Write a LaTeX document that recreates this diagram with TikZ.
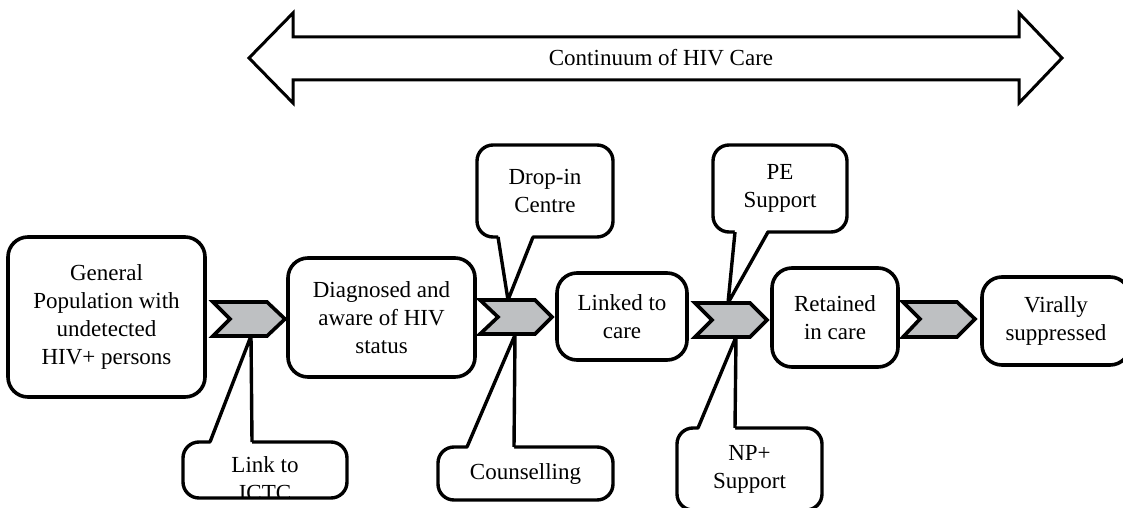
\documentclass[tikz,border=0pt]{standalone}
\usepackage{fontspec}
\setmainfont{Liberation Serif}
\definecolor{chevgray}{RGB}{190,192,194}
\begin{document}
\begin{tikzpicture}[x=0.5pt,y=-0.5pt,
  every node/.style={font=\fontsize{11.5}{14}\selectfont, align=center, inner sep=0pt},
  stage/.style={draw=black, line width=1.8pt, rounded corners=10pt, fill=white},
  bubble/.style={draw=black, line width=1.7pt, rounded corners=8pt, fill=white},
  tail/.style={draw=black, line width=1.7pt, line join=miter},
  chev/.style={draw=black, line width=1.8pt, fill=chevgray, line join=miter},
  band/.style={draw=black, line width=1.5pt, fill=white, line join=miter}]
\useasboundingbox (0,0) rectangle (1123,508);
\clip (0,0) rectangle (1123,508);

% double-headed banner across the top
\draw[band] (249,58) -- (293,13) -- (293,37) -- (1019,37) -- (1019,13) -- (1062,58)
  -- (1019,103) -- (1019,80) -- (293,80) -- (293,103) -- cycle;
\node (title) at (661,58) {Continuum of HIV Care};

% support callouts
\node[bubble, minimum width=68pt, minimum height=46pt] (drop) at (545,191) {Drop-in\\Centre};
\node[bubble, minimum width=67pt, minimum height=43.5pt] (pe) at (780,188.5) {PE\\Support};
% this callout is too short for its text: the second line runs under the border
\node[bubble, minimum width=82pt, minimum height=28pt,
  path picture={\node[yshift=-4.5pt] (linktext) at (path picture bounding box.center) {Link to\\ICTC};}]
  (link) at (265,470) {};
\node[bubble, minimum width=87.5pt, minimum height=26.5pt] (couns) at (525.5,473.5) {Counselling};
\node[bubble, minimum width=72.5pt, minimum height=41pt] (np) at (749.5,469) {NP+\\Support};

% callout tails
\coordinate (linkL) at (210,442);  \coordinate (linkR) at (252,442);  \coordinate (linkT) at (251,336);
\coordinate (counsL) at (467,447); \coordinate (counsR) at (514,447); \coordinate (counsT) at (515,335);
\coordinate (npL) at (698,428);    \coordinate (npR) at (735,428);    \coordinate (npT) at (736,337);
\coordinate (dropL) at (498,237);  \coordinate (dropR) at (533,237);  \coordinate (dropT) at (508,300);
\coordinate (peL) at (735,232);    \coordinate (peR) at (768,232);    \coordinate (peT) at (728,303);

\foreach \t in {link,couns,np}{
  \fill[white] ([yshift=-1.6pt]\t L) -- (\t T) -- ([yshift=-1.6pt]\t R) -- cycle;
  \draw[tail] (\t L) -- (\t T) -- (\t R);
}
\foreach \t in {drop,pe}{
  \fill[white] ([yshift=1.6pt]\t L) -- (\t T) -- ([yshift=1.6pt]\t R) -- cycle;
  \draw[tail] (\t L) -- (\t T) -- (\t R);
}

% chevrons between the stages
\draw[chev] (213,302) -- (267,302) -- (285,319) -- (267,336) -- (213,336) -- (230,319) -- cycle;
\draw[chev] (480,300) -- (535,300) -- (552,317) -- (535,334) -- (480,334) -- (498,317) -- cycle;
\draw[chev] (695,303) -- (750,303) -- (767,320) -- (750,337) -- (695,337) -- (712,320) -- cycle;
\draw[chev] (903,302) -- (957,302) -- (975,319) -- (957,337) -- (903,337) -- (920,319) -- cycle;

% stages of the continuum
\node[stage, minimum width=98.5pt, minimum height=80pt] (gen) at (106.5,317)
  {General\\Population with\\undetected\\HIV+ persons};
\node[stage, minimum width=93.5pt, minimum height=59.5pt] (diag) at (381.5,317.5)
  {Diagnosed and\\aware of HIV\\status};
\node[stage, minimum width=65pt, minimum height=43.5pt] (linked) at (622,316.5)
  {Linked to\\care};
\node[stage, minimum width=63pt, minimum height=49.5pt] (ret) at (835,317.5)
  {Retained\\in care};
\node[stage, minimum width=74pt, minimum height=44pt] (viral) at (1056,321)
  {Virally\\suppressed};
\end{tikzpicture}
\end{document}
